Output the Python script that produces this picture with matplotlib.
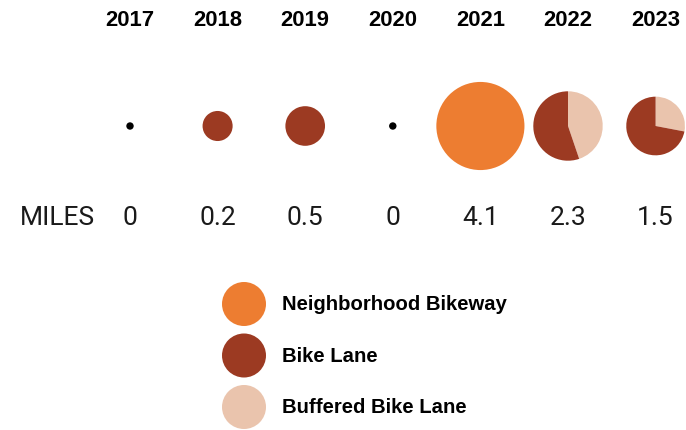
import matplotlib.pyplot as plt
from matplotlib.patches import Wedge, Circle

years = ['2017', '2018', '2019', '2020', '2021', '2022', '2023']
miles = [0, 0.2, 0.5, 0, 4.1, 2.3, 1.5]
miles_labels = ['0', '0.2', '0.5', '0', '4.1', '2.3', '1.5']
# miles per type, per year
neighborhood = [0, 0, 0, 0, 4.1, 0, 0]
bike_lane = [0, 0.2, 0.5, 0, 0, 1.27, 1.08]
buffered = [0, 0, 0, 0, 0, 1.03, 0.42]

types = ['Neighborhood Bikeway', 'Bike Lane', 'Buffered Bike Lane']
colors = ['#ED7D31', '#9C3A22', '#EAC4AD']

fig = plt.figure(figsize=(6.86, 4.31), dpi=100)
ax = fig.add_axes([0, 0, 1, 1])
ax.set_xlim(0, 686)
ax.set_ylim(431, 0)
ax.set_aspect('equal')
ax.axis('off')

x0, dx = 130, 87.6
row_year, row_pie, row_miles = 21, 127, 218
num_font = dict(fontsize=19, family='Roboto', color='#1a1a1a')

for i, yr in enumerate(years):
    x = x0 + i * dx
    ax.text(x, row_year, yr, ha='center', va='center', fontsize=15.8,
            fontweight='bold', family='Liberation Sans')
    ax.text(x, row_miles, miles_labels[i], ha='center', va='center', **num_font)
    total = miles[i]
    if total == 0:
        ax.add_patch(Circle((x, row_pie), 3, color='black'))
        continue
    r = 6.8 + 18.4 * total ** 0.5
    # clockwise from 12 o'clock: buffered, then bike lane, then neighborhood
    start = -90
    for val, c in [(buffered[i], colors[2]), (bike_lane[i], colors[1]),
                   (neighborhood[i], colors[0])]:
        if val <= 0:
            continue
        span = 360 * val / total
        ax.add_patch(Wedge((x, row_pie), r, start, start + span, color=c,
                           linewidth=0))
        start += span

ax.text(20, row_miles, 'MILES', ha='left', va='center', **num_font)

# legend
for j, (t, c) in enumerate(zip(types, colors)):
    y = 305 + j * 51.5
    ax.add_patch(Circle((244, y), 22, color=c, linewidth=0))
    ax.text(282, y, t, ha='left', va='center', fontsize=14.6,
            fontweight='bold', family='Liberation Sans')

fig.savefig('out.png', dpi=100)
